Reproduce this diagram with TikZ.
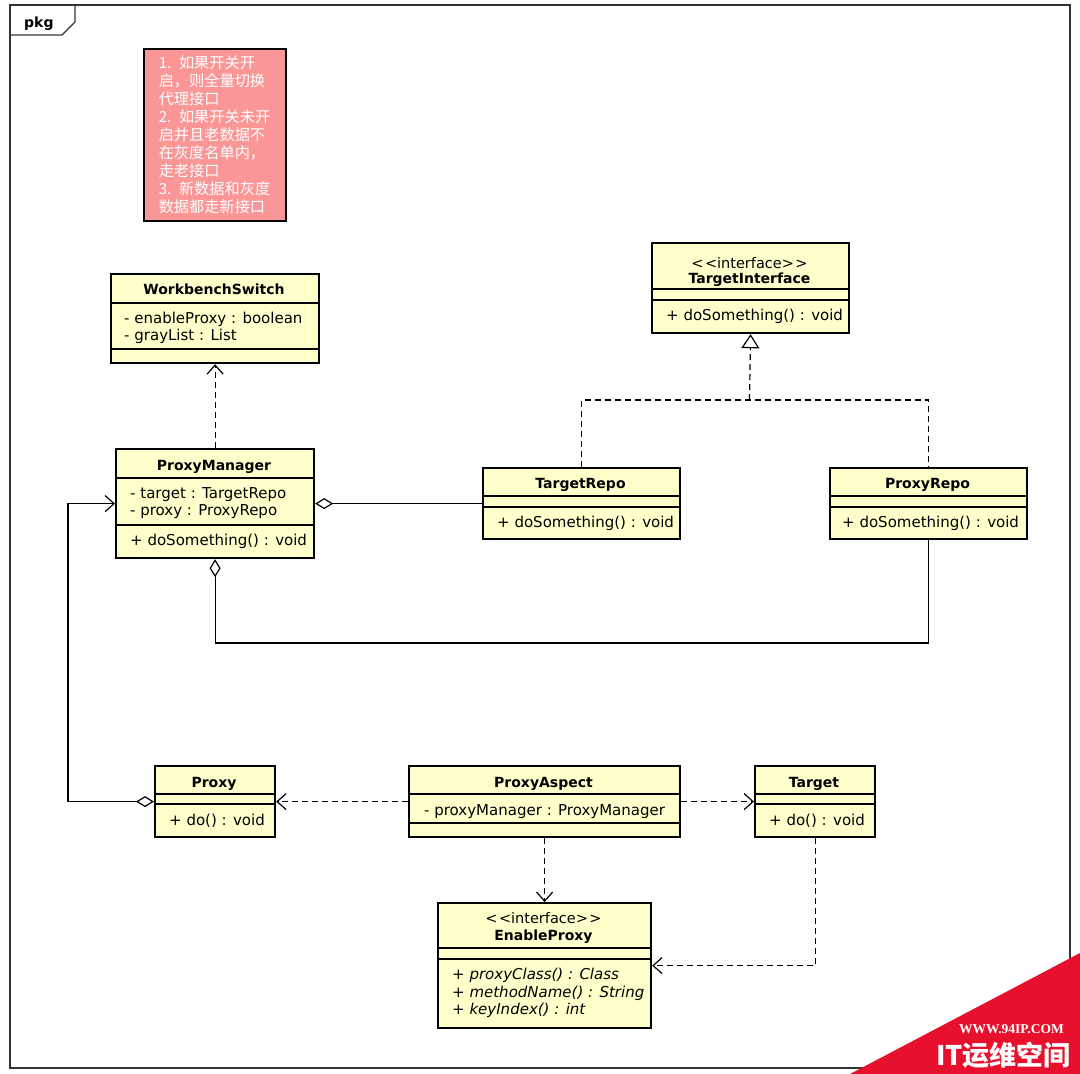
\documentclass[tikz,border=0pt]{standalone}
\usepackage{fontspec}
\setmainfont{DejaVu Sans}[BoldFont={DejaVu Sans Bold},ItalicFont={DejaVu Sans Oblique}]
\newfontfamily\cjk{Noto Sans CJK SC}
\newfontfamily\wmserif{Liberation Serif}
\usetikzlibrary{arrows.meta}

\definecolor{classfill}{RGB}{255,255,204}
\definecolor{notefill}{RGB}{250,150,150}
\definecolor{markred}{RGB}{232,17,45}

\tikzset{
  classbox/.style={draw, line width=2.2pt, fill=classfill, anchor=north west, inner sep=0pt},
  notebox/.style={draw, line width=1.5pt, fill=notefill, anchor=north west, inner xsep=15pt,
    inner ysep=0pt, text width=112pt, minimum height=172pt, align=left, text=white,
    font=\cjk\fontsize{15.2}{18}\selectfont},
  ctitle/.style={font=\fontsize{14}{16}\selectfont\bfseries, anchor=base, inner sep=0pt},
  cstereo/.style={font=\fontsize{14.5}{16}\selectfont, anchor=base, inner sep=0pt},
  cmember/.style={font=\fontsize{15}{17}\selectfont, anchor=base west, inner sep=0pt},
  csep/.style={line width=1.6pt},
  dep/.style={line width=1.2pt, dash pattern=on 6pt off 4pt, -{Straight Barb[length=9pt,width=16pt]}},
  assoc/.style={line width=1.2pt},
}

\begin{document}
\begin{tikzpicture}[x=1pt, y=-1pt]
  \useasboundingbox (0,0) rectangle (1080,1074);

  % frame
  \draw[line width=1.3pt, black!80] (10,5) rectangle (1070,1068);
  \draw[line width=1.3pt, black!80] (10,35) -- (62,35) -- (75,22) -- (75,5);
  \node[anchor=base west, inner sep=0pt, font=\fontsize{14}{16}\selectfont\bfseries] (pkg) at (24,27) {pkg};

  % note
  \node[notebox] (note) at (143,48) {1. 如果开关开\\启，则全量切换\\代理接口\\2. 如果开关未开\\启并且老数据不\\在灰度名单内，\\走老接口\\3. 新数据和灰度\\数据都走新接口};

  % WorkbenchSwitch
  \node[classbox, minimum width=208pt, minimum height=89pt] (ws) at (110,273) {};
  \node[ctitle] at (214,294) {WorkbenchSwitch};
  \draw[csep] (ws.west |- 0,303) -- (ws.east |- 0,303);
  \node[cmember] at (124,323) {- enableProxy : boolean};
  \node[cmember] at (124,340) {- grayList : List};
  \draw[csep] (ws.west |- 0,349) -- (ws.east |- 0,349);

  % TargetInterface
  \node[classbox, minimum width=197pt, minimum height=90pt] (ti) at (651,242) {};
  \node[cstereo] at (749.5,268) {<\kern1.5pt<interface>\kern1.5pt>};
  \node[ctitle] at (749.5,283) {TargetInterface};
  \draw[csep] (ti.west |- 0,289) -- (ti.east |- 0,289);
  \draw[csep] (ti.west |- 0,300) -- (ti.east |- 0,300);
  \node[cmember] at (666,320) {+ doSomething() : void};

  % ProxyManager
  \node[classbox, minimum width=198pt, minimum height=109pt] (pm) at (115,448) {};
  \node[ctitle] at (214,470) {ProxyManager};
  \draw[csep] (pm.west |- 0,478) -- (pm.east |- 0,478);
  \node[cmember] at (130,498) {- target : TargetRepo};
  \node[cmember] at (130,515) {- proxy : ProxyRepo};
  \draw[csep] (pm.west |- 0,525) -- (pm.east |- 0,525);
  \node[cmember] at (130,545) {+ doSomething() : void};

  % TargetRepo
  \node[classbox, minimum width=197pt, minimum height=71pt] (tr) at (482,467) {};
  \node[ctitle] at (580.5,488) {TargetRepo};
  \draw[csep] (tr.west |- 0,496) -- (tr.east |- 0,496);
  \draw[csep] (tr.west |- 0,507) -- (tr.east |- 0,507);
  \node[cmember] at (497,527) {+ doSomething() : void};

  % ProxyRepo
  \node[classbox, minimum width=197pt, minimum height=71pt] (pr) at (829,467) {};
  \node[ctitle] at (927.5,488) {ProxyRepo};
  \draw[csep] (pr.west |- 0,496) -- (pr.east |- 0,496);
  \draw[csep] (pr.west |- 0,507) -- (pr.east |- 0,507);
  \node[cmember] at (842,527) {+ doSomething() : void};

  % Proxy
  \node[classbox, minimum width=120pt, minimum height=71pt] (px) at (154,765) {};
  \node[ctitle] at (214,787) {Proxy};
  \draw[csep] (px.west |- 0,794) -- (px.east |- 0,794);
  \draw[csep] (px.west |- 0,804) -- (px.east |- 0,804);
  \node[cmember] at (169,825) {+ do() : void};

  % ProxyAspect
  \node[classbox, minimum width=271pt, minimum height=71pt] (pa) at (408,765) {};
  \node[ctitle] at (543.5,787) {ProxyAspect};
  \draw[csep] (pa.west |- 0,794) -- (pa.east |- 0,794);
  \node[cmember] at (424,815) {- proxyManager : ProxyManager};
  \draw[csep] (pa.west |- 0,823) -- (pa.east |- 0,823);

  % Target
  \node[classbox, minimum width=120pt, minimum height=71pt] (tg) at (754,765) {};
  \node[ctitle] at (814,787) {Target};
  \draw[csep] (tg.west |- 0,794) -- (tg.east |- 0,794);
  \draw[csep] (tg.west |- 0,804) -- (tg.east |- 0,804);
  \node[cmember] at (769,825) {+ do() : void};

  % EnableProxy
  \node[classbox, minimum width=213pt, minimum height=125pt] (ep) at (437,902) {};
  \node[cstereo] at (543.5,923) {<\kern1.5pt<interface>\kern1.5pt>};
  \node[ctitle] at (543.5,940) {EnableProxy};
  \draw[csep] (ep.west |- 0,948) -- (ep.east |- 0,948);
  \draw[csep] (ep.west |- 0,959) -- (ep.east |- 0,959);
  \node[cmember, font=\fontsize{15}{17}\selectfont\itshape] at (452,979) {+ proxyClass() : Class};
  \node[cmember, font=\fontsize{15}{17}\selectfont\itshape] at (452,997) {+ methodName() : String};
  \node[cmember, font=\fontsize{15}{17}\selectfont\itshape] at (452,1014) {+ keyIndex() : int};

  % bend points
  \coordinate (realize) at (749.5,400);
  \coordinate (lower) at (0,643);
  \coordinate (back) at (68,0);

  % connectors
  \draw[dep] (pm.north) -- (ws.south);
  \draw[assoc, dash pattern=on 6pt off 4pt] (tr.north) |- (realize) -| (pr.north);
  \draw[assoc, dash pattern=on 6pt off 4pt, -{Triangle[open, length=14pt, width=18pt]}] (realize) -- (ti.south);
  \draw[assoc, {Diamond[open, length=18pt, width=11pt]}-] (pm.east) -- (tr.west);
  \draw[assoc, {Diamond[open, length=18pt, width=11pt]}-] (pm.south) -- (pm.south |- lower) -| (pr.south);
  \draw[assoc, {Diamond[open, length=18pt, width=11pt]}-{Straight Barb[length=9pt,width=16pt]}] (px.west) -| (back |- pm.west) -- (pm.west);
  \draw[dep] (pa.west) -- (px.east);
  \draw[dep] (pa.east) -- (tg.west);
  \draw[dep] (pa.south) -- (ep.north);
  \draw[dep] (tg.south) |- (ep.east);

  % watermark
  \fill[markred] (1080,953) -- (1080,1074) -- (850,1074) -- cycle;
  \node[anchor=base east, inner sep=0pt, text=white, font=\wmserif\bfseries\fontsize{13.5}{15}\selectfont] (wmurl) at (1064,1033) {WWW.94IP.COM};
  \node[anchor=base east, inner sep=0pt, text=white, font=\cjk\bfseries\fontsize{27}{30}\selectfont] (wmname) at (1071,1065) {IT运维空间};
\end{tikzpicture}
\end{document}
